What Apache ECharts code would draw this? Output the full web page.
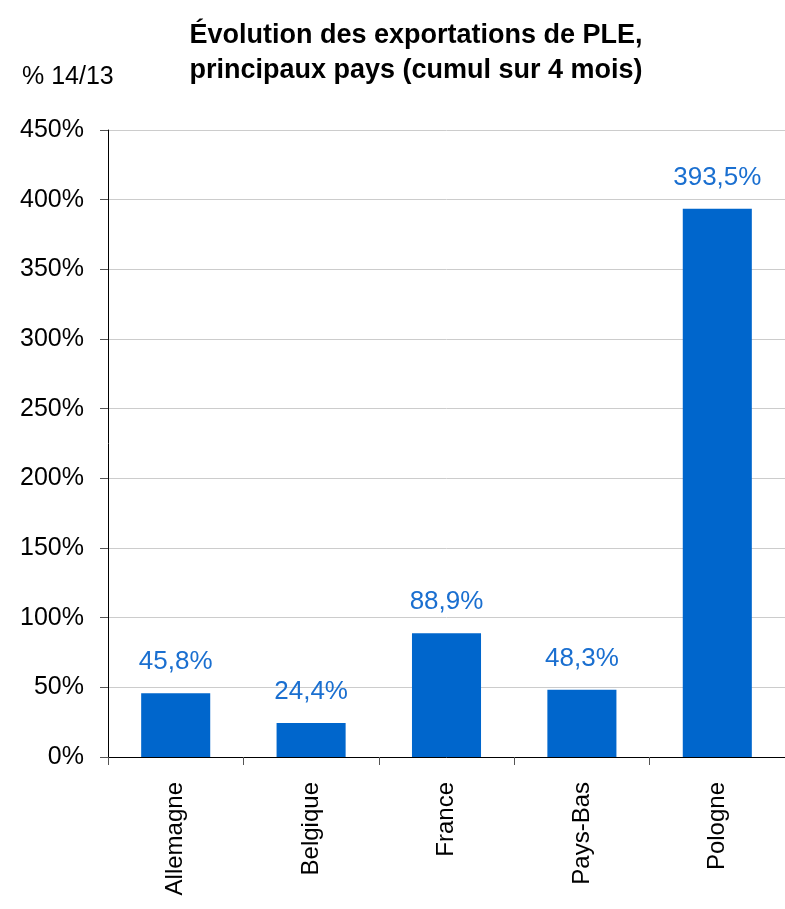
<!DOCTYPE html>
<html>
<head>
<meta charset="utf-8">
<script src="https://cdn.jsdelivr.net/npm/echarts@6/dist/echarts.min.js"></script>
<style>
	html, body { margin: 0; padding: 0; background: #fff; }
	#charts { width: 785px; height: 909px; }
</style>
</head>
<body>
<div id="charts"></div>
<script>
const pays = ['Allemagne', 'Belgique', 'France', 'Pays-Bas', 'Pologne'];
const evolution = [45.8, 24.4, 88.9, 48.3, 393.5];
const titre = 'Évolution des exportations de PLE,\nprincipaux pays (cumul sur 4 mois)';
const uniteAxe = '% 14/13';

const myChart = echarts.init(document.getElementById('charts'));

const fmtPct = (v) => v.toFixed(1).replace('.', ',') + '%';

let option = {
	animation: false,
	textStyle: {
		fontFamily: 'Liberation Sans, Arial, sans-serif'
	},
	title: [
		{
			text: titre,
			left: 411,
			top: 13,
			textAlign: 'center',
			textStyle: {
				fontSize: 27,
				fontWeight: 'bold',
				color: '#000',
				lineHeight: 35
			}
		},
		{
			text: uniteAxe,
			left: 17,
			top: 60,
			textStyle: {
				fontSize: 25,
				fontWeight: 'normal',
				color: '#000'
			}
		}
	],
	grid: {
		left: 108,
		right: 0,
		top: 130,
		bottom: 152
	},
	xAxis: {
		type: 'category',
		data: pays,
		axisLine: {
			lineStyle: { color: '#000', width: 1 }
		},
		axisTick: {
			show: true,
			length: 8,
			lineStyle: { color: '#555' }
		},
		axisLabel: {
			rotate: 90,
			margin: 25,
			fontSize: 24,
			color: '#000'
		}
	},
	yAxis: {
		type: 'value',
		min: 0,
		max: 450,
		interval: 50,
		axisLine: {
			show: true,
			lineStyle: { color: '#000', width: 1 }
		},
		axisTick: {
			show: true,
			length: 8,
			lineStyle: { color: '#555' }
		},
		axisLabel: {
			formatter: '{value}%',
			margin: 24,
			fontSize: 25,
			color: '#000'
		},
		splitLine: {
			lineStyle: { color: '#cccccc', width: 1 }
		}
	},
	series: [
		{
			type: 'bar',
			data: evolution,
			barWidth: '51%',
			itemStyle: { color: '#0066CC' },
			label: {
				show: true,
				position: 'top',
				distance: 18,
				fontSize: 26,
				color: '#1a6fd0',
				formatter: (p) => fmtPct(p.value)
			}
		}
	]
};

myChart.setOption(option);
</script>
</body>
</html>
